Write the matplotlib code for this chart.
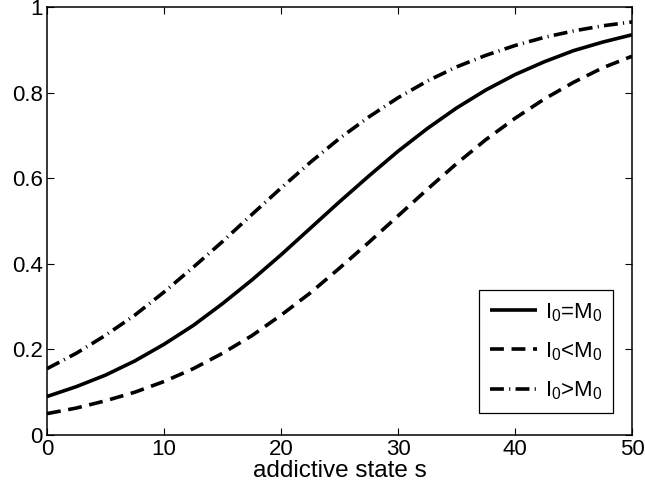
import matplotlib
matplotlib.use("Agg")
import matplotlib.pyplot as plt

s = [0, 2.5, 5, 7.5, 10, 12.5, 15, 17.5, 20, 22.5, 25, 27.5, 30, 32.5, 35, 37.5, 40, 42.5, 45, 47.5, 50]
equal = [0.090, 0.113, 0.140, 0.173, 0.212, 0.256, 0.307, 0.362, 0.421, 0.483, 0.545,
         0.605, 0.663, 0.716, 0.764, 0.806, 0.842, 0.872, 0.898, 0.918, 0.935]
less = [0.050, 0.063, 0.080, 0.100, 0.125, 0.155, 0.191, 0.232, 0.280, 0.332, 0.390,
        0.450, 0.512, 0.574, 0.634, 0.690, 0.740, 0.785, 0.824, 0.858, 0.885]
greater = [0.155, 0.191, 0.233, 0.280, 0.334, 0.392, 0.452, 0.515, 0.577, 0.637, 0.693,
           0.743, 0.788, 0.827, 0.860, 0.887, 0.910, 0.929, 0.944, 0.956, 0.965]
labels = ['I$_0$=M$_0$', 'I$_0$<M$_0$', 'I$_0$>M$_0$']
xticks = [0, 10, 20, 30, 40, 50]
yticks = [0, 0.2, 0.4, 0.6, 0.8, 1]
ytick_labels = ['0', '0.2', '0.4', '0.6', '0.8', '1']

plt.rcParams['font.family'] = ['Liberation Sans', 'DejaVu Sans']
plt.rcParams['mathtext.fontset'] = 'custom'
plt.rcParams['mathtext.rm'] = 'Liberation Sans'
plt.rcParams['mathtext.it'] = 'Liberation Sans'
plt.rcParams['mathtext.default'] = 'regular'
plt.rcParams['lines.scale_dashes'] = False

fig = plt.figure(figsize=(6.45, 4.97), dpi=100)
ax = fig.add_axes([0.0729, 0.1247, 0.9071, 0.8613])

lw = 2.6
ax.plot(s, equal, color='black', lw=lw, label=labels[0], solid_capstyle='butt')
ax.plot(s, less, color='black', lw=lw, label=labels[1], dashes=(10, 5.5), dash_capstyle='butt')
ax.plot(s, greater, color='black', lw=lw, label=labels[2], dashes=(10, 3.8, 0.8, 3.8), dash_capstyle='butt')

ax.set_xlim(0, 50)
ax.set_ylim(0, 1)
ax.set_xticks(xticks)
ax.set_yticks(yticks)
ax.set_yticklabels(ytick_labels)
ax.tick_params(direction='in', top=True, right=True, length=5, width=0.8,
               labelsize=16, pad=3)
for sp in ax.spines.values():
    sp.set_linewidth(1.1)
ax.set_xlabel('addictive state s', fontsize=17.5, labelpad=0)

leg = ax.legend(loc='lower right', bbox_to_anchor=(0.968, 0.051), borderaxespad=0,
                fontsize=16, handlelength=2.1, handletextpad=0.35, labelspacing=0.75,
                fancybox=False, framealpha=1, edgecolor='black', borderpad=0.5)
leg.get_frame().set_linewidth(0.9)

fig.savefig('out.png', dpi=100)
